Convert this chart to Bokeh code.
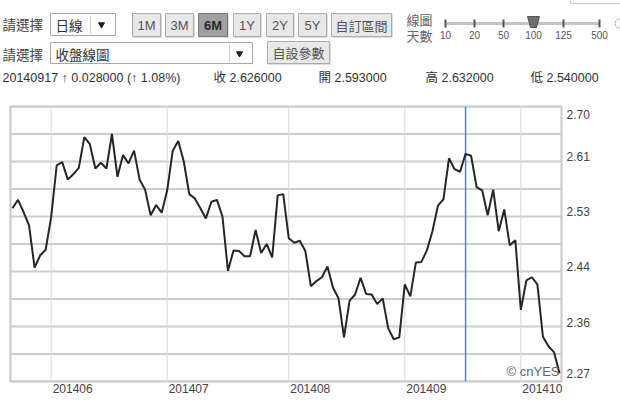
import numpy as np
import pandas as pd
from bokeh.plotting import figure
from bokeh.layouts import column
from bokeh.models import Range1d, FixedTicker, Label
from bokeh.core.properties import value
from bokeh.embed import file_html
from bokeh.resources import INLINE

# ---------------- data ----------------
holidays = ["2014-05-26", "2014-07-04", "2014-09-01"]
dates = [d for d in pd.bdate_range("2014-05-21", "2014-10-10")
         if d.strftime("%Y-%m-%d") not in holidays]

closes = [
    2.541, 2.554, 2.535, 2.514, 2.448, 2.467, 2.476, 2.527, 2.608, 2.613,
    2.586, 2.594, 2.604, 2.652, 2.641, 2.603, 2.612, 2.603, 2.657, 2.590,
    2.624, 2.611, 2.631, 2.586, 2.570, 2.530, 2.546, 2.534, 2.569, 2.631,
    2.646, 2.614, 2.563, 2.556, 2.541, 2.525, 2.551, 2.554, 2.528, 2.443,
    2.475, 2.474, 2.466, 2.466, 2.507, 2.471, 2.485, 2.464, 2.561, 2.563,
    2.494, 2.487, 2.490, 2.474, 2.419, 2.427, 2.433, 2.450, 2.417, 2.400,
    2.339, 2.396, 2.406, 2.432, 2.407, 2.406, 2.391, 2.400, 2.353, 2.336,
    2.339, 2.422, 2.403, 2.456, 2.457, 2.475, 2.505, 2.545, 2.555, 2.619,
    2.602, 2.598, 2.626, 2.623, 2.574, 2.569, 2.530, 2.570, 2.505, 2.539,
    2.483, 2.491, 2.382, 2.428, 2.433, 2.422, 2.340, 2.325, 2.316, 2.283,
]

selected_date = "2014-09-17"
sel_open, sel_high, sel_low = 2.593, 2.632, 2.540

y_min, y_max = 2.27, 2.70
y_tick_values = [2.27, 2.356, 2.442, 2.528, 2.614, 2.70]
y_tick_labels = ["2.27", "2.36", "2.44", "2.53", "2.61", "2.70"]

range_buttons = ["1M", "3M", "6M", "1Y", "2Y", "5Y"]
active_button = "6M"
days_options = ["10", "20", "50", "100", "125", "500"]
active_days = "100"

# ---------------- derived ----------------
idx = list(range(len(closes)))
date_str = [d.strftime("%Y-%m-%d") for d in dates]
month_idx = [i for i in idx if i == 0 or dates[i].month != dates[i - 1].month][1:]
sel_i = date_str.index(selected_date)
sel_close = closes[sel_i]
chg = sel_close - closes[sel_i - 1]
pct = chg / closes[sel_i - 1] * 100

FONT_S = "'Liberation Sans', 'Noto Sans CJK TC', sans-serif"
FONT = value(FONT_S)
CJK = value("'Noto Sans CJK TC', 'Liberation Sans', sans-serif")

W, H, TOP_H = 620, 402, 92
BORDER_L, BORDER_R, BORDER_T, BORDER_B = 10, 59, 14, 21

# ---------------- top control bar ----------------
t = figure(width=W, height=TOP_H, x_range=Range1d(0, W), y_range=Range1d(TOP_H, 0),
           output_backend="svg", toolbar_location=None, min_border=0, frame_align=False)
t.axis.visible = False
t.grid.visible = False
t.outline_line_color = None
t.background_fill_color = "white"
t.border_fill_color = "white"

t.quad(left=[570], right=[630], top=[-6], bottom=[3], fill_color="white", line_color="#c8c8c8")

t.text(x=[2, 2], y=[23, 53], text=["請選擇", "請選擇"], text_font=CJK, text_font_size="13.5px",
       text_color="#444444", text_baseline="middle")

t.quad(left=[50, 50], right=[115, 252], top=[13, 42], bottom=[35, 63],
       fill_color="white", line_color="#a8a8a8")
t.multi_line(xs=[[90, 90], [229, 229]], ys=[[15, 33], [44, 61]], line_color="#cfcfcf")
t.scatter(x=[101, 239], y=[24, 53], marker="inverted_triangle", size=6,
          fill_color="#222222", line_color="#222222")
t.text(x=[55, 55], y=[24, 53], text=["日線", "收盤線圖"], text_font=CJK, text_font_size="13.5px",
       text_color="#333333", text_baseline="middle")

b_left = [132, 165, 198, 233, 266, 298]
b_right = [160, 193, 227, 260, 293, 326]
for name, l, r in zip(range_buttons, b_left, b_right):
    active = name == active_button
    t.quad(left=[l + 1], right=[r + 1], top=[14], bottom=[37], fill_color="#bdbdbd", line_color=None)
    t.quad(left=[l], right=[r], top=[13], bottom=[36],
           fill_color="#a0a0a0" if active else "#e8e8e8",
           line_color="#7a7a7a" if active else "#ababab")
    t.text(x=[(l + r) / 2], y=[25], text=[name], text_font=FONT, text_font_size="13px",
           text_font_style="bold" if active else "normal",
           text_color="#2a2a2a" if active else "#555555",
           text_align="center", text_baseline="middle")

for (l, r, tp, bt, label) in [(331, 391, 13, 36, "自訂區間"), (267, 329, 41, 63, "自設參數")]:
    t.quad(left=[l + 1], right=[r + 1], top=[tp + 1], bottom=[bt + 1], fill_color="#bdbdbd", line_color=None)
    t.quad(left=[l], right=[r], top=[tp], bottom=[bt], fill_color="#e8e8e8", line_color="#ababab")
    t.text(x=[(l + r) / 2], y=[(tp + bt) / 2], text=[label], text_font=CJK, text_font_size="13px",
           text_color="#555555", text_align="center", text_baseline="middle")

t.text(x=[406, 406], y=[19, 35], text=["線圖", "天數"], text_font=CJK, text_font_size="13px",
       text_color="#666666", text_baseline="middle")
s_x = [445, 474, 503, 533, 563, 599]
t.line(x=[445, 599], y=[23, 23], line_color="#c4c4c4", line_width=3)
t.multi_line(xs=[[sx, sx] for sx in s_x], ys=[[19, 27] for _ in s_x], line_color="#555555", line_width=2)
t.text(x=s_x, y=[34] * 6, text=days_options, text_font=FONT, text_font_size="10px",
       text_color="#555555", text_align="center", text_baseline="middle")
ax = s_x[days_options.index(active_days)]
t.patch(x=[ax - 6, ax + 6, ax + 3, ax - 3], y=[16, 16, 27, 27], fill_color="#6e6e6e", line_color="#555555")
t.scatter(x=[619], y=[23], marker="circle", size=9, fill_color="white", line_color="#aaaaaa")

info_x = [2, 213, 318, 425, 530]
info_txt = [
    f"{dates[sel_i].strftime('%Y%m%d')}  \u2191 {chg:.6f} (\u2191 {pct:.2f}%)",
    f"收 {sel_close:.6f}",
    f"開 {sel_open:.6f}",
    f"高 {sel_high:.6f}",
    f"低 {sel_low:.6f}",
]
t.text(x=info_x, y=[77] * 5, text=info_txt, text_font=FONT, text_font_size="12.5px",
       text_color="#333333", text_baseline="middle")

# ---------------- chart ----------------
x_pad = 0.36
x_lo, x_hi = -x_pad, len(closes) - 1 + x_pad
p = figure(width=W, height=H - TOP_H,
           x_range=Range1d(x_lo, x_hi), y_range=Range1d(y_min, y_max),
           y_axis_location="right", output_backend="svg", toolbar_location=None,
           min_border_left=BORDER_L, min_border_right=BORDER_R,
           min_border_top=BORDER_T, min_border_bottom=BORDER_B, frame_align=False)
p.background_fill_color = "white"
p.border_fill_color = "white"
p.outline_line_color = "#c8c8c8"
p.outline_line_width = 2
p.grid.visible = False

frame_w = W - BORDER_L - BORDER_R
frame_h = H - TOP_H - BORDER_T - BORDER_B
px_x = (x_hi - x_lo) / frame_w
px_y = (y_max - y_min) / frame_h

grid_y = [float(v) for v in np.linspace(y_min, y_max, 11)]
p.multi_line(xs=[[x_lo, x_hi] for _ in grid_y], ys=[[v, v] for v in grid_y],
             line_color="#cdcdcd", line_width=2)
p.multi_line(xs=[[i, i] for i in month_idx], ys=[[y_min, y_max] for _ in month_idx],
             line_color="#d9d9d9", line_width=1)

x_label_nudge_px = 21.5
x_ticks = [i + x_label_nudge_px * px_x for i in month_idx]
p.xaxis.ticker = FixedTicker(ticks=x_ticks)
p.xaxis.major_label_overrides = {xt: dates[i].strftime("%Y%m") for xt, i in zip(x_ticks, month_idx)}

y_label_nudge_px = [8, 4.5, 5, 5, 5, -8]
y_ticks = [v + n * px_y for v, n in zip(y_tick_values, y_label_nudge_px)]
p.yaxis.ticker = FixedTicker(ticks=y_ticks)
p.yaxis.major_label_overrides = dict(zip(y_ticks, y_tick_labels))

for a in (p.xaxis, p.yaxis):
    a.axis_line_color = None
    a.major_tick_line_color = None
    a.minor_tick_line_color = None
    a.major_tick_out = 0
    a.major_tick_in = 0
    a.minor_tick_out = 0
    a.major_label_text_font = FONT_S
    a.major_label_text_font_size = "12px"
    a.major_label_text_color = "#444444"
p.xaxis.major_label_standoff = 2
p.yaxis.major_label_standoff = 5

p.line(x=[sel_i, sel_i], y=[y_min, y_max], line_color="#2f93d0", line_width=1.5)

p.line(idx, closes, line_color="#262626", line_width=2)

p.add_layout(Label(x=x_hi, y=y_min, x_offset=-2, y_offset=3, text="\u00a9 cnYES",
                   text_font=FONT_S, text_font_size="13px", text_color="#666666",
                   text_align="right", text_baseline="bottom"))

layout = column(t, p, spacing=0)
open("out.html", "w").write(file_html(layout, INLINE))
